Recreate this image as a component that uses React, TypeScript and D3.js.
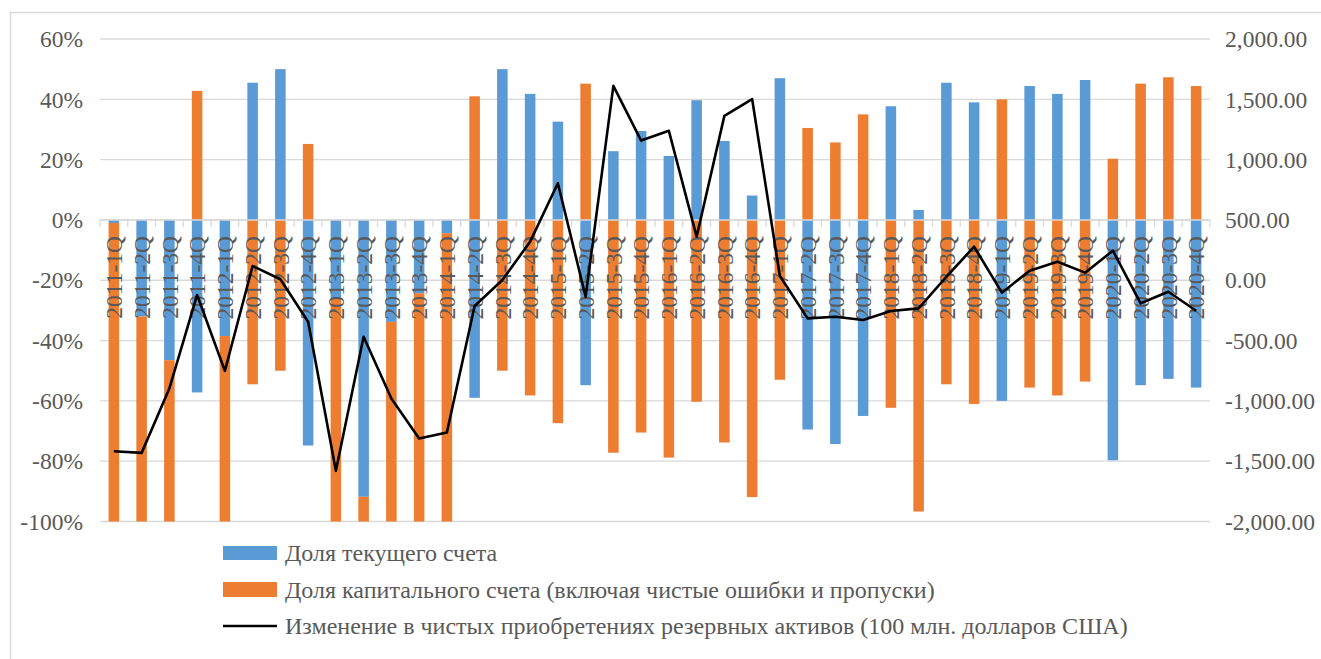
import React from "react";
import * as d3 from "d3";

const categories = [
  "2011-1Q","2011-2Q","2011-3Q","2011-4Q","2012-1Q","2012-2Q","2012-3Q","2012-4Q",
  "2013-1Q","2013-2Q","2013-3Q","2013-4Q","2014-1Q","2014-2Q","2014-3Q","2014-4Q",
  "2015-1Q","2015-2Q","2015-3Q","2015-4Q","2016-1Q","2016-2Q","2016-3Q","2016-4Q",
  "2017-1Q","2017-2Q","2017-3Q","2017-4Q","2018-1Q","2018-2Q","2018-3Q","2018-4Q",
  "2019-1Q","2019-2Q","2019-3Q","2019-4Q","2020-1Q","2020-2Q","2020-3Q","2020-4Q",
];

// Share of current account (%)
const currentShare = [
  -1, -32, -46.5, -57.2, -38.5, 45.5, 50, -74.8,
  -26, -91.8, -33.8, -24.3, -4.4, -59, 50, 41.8,
  32.6, -54.8, 22.8, 29.5, 21.2, 39.7, 26.2, 8.1,
  47, -69.5, -74.3, -65, 37.7, 3.3, 45.5, 39,
  -60, 44.4, 41.8, 46.4, -79.7, -54.8, -52.7, -55.6,
];

// Share of capital account incl. net errors and omissions (%)
const capitalShare = [
  -99, -68, -53.5, 42.8, -61.5, -54.5, -50, 25.2,
  -74, -8.2, -66.2, -75.7, -95.6, 41, -50, -58.2,
  -67.4, 45.2, -77.2, -70.5, -78.8, -60.3, -73.8, -91.9,
  -53, 30.5, 25.7, 35, -62.3, -96.7, -54.5, -61,
  40, -55.6, -58.2, -53.6, 20.3, 45.2, 47.3, 44.4,
];

// Change in net acquisition of reserve assets (100 mln USD)
const reserveChange = [
  -1417, -1431, -897, -122, -751, 118, 8, -344,
  -1580, -468, -980, -1312, -1262, -214, 2, 320,
  804, -136, 1612, 1158, 1239, 361, 1363, 1502,
  35, -316, -302, -330, -255, -233, 29, 278,
  -103, 79, 154, 63, 245, -191, -95, -253,
];

const leftTicks = [-1, -0.8, -0.6, -0.4, -0.2, 0, 0.2, 0.4, 0.6];
const rightTicks = [-2000, -1500, -1000, -500, 0, 500, 1000, 1500, 2000];

const legendLabels = [
  "Доля текущего счета",
  "Доля капитального счета (включая чистые ошибки и пропуски)",
  "Изменение в чистых приобретениях резервных активов (100 млн. долларов США)",
];

const BLUE = "#5B9BD5";
const ORANGE = "#ED7D31";
const GRID = "#d9d9d9";
const TEXT = "#595959";
const FONT = "Liberation Serif";
const txt = { fontFamily: FONT };

const locale = d3.formatLocale({
  decimal: ".",
  thousands: ",",
  grouping: [3],
  currency: ["", ""],
  minus: "-",
});
const fmtPct = locale.format(".0%");
const fmtNum = locale.format(",.2f");

export default function App() {
  const W = 1321;
  const H = 659;
  const left = 100;
  const right = 1210;
  const top = 39;
  const bottom = 521.5;

  const x = d3
    .scaleBand<string>()
    .domain(categories)
    .range([left, right])
    .paddingInner(0.62)
    .paddingOuter(0.31);
  const step = x.step();
  const bw = x.bandwidth();
  const yL = d3.scaleLinear().domain([-1, 0.6]).range([bottom, top]);
  const yR = d3.scaleLinear().domain([-2000, 2000]).range([bottom, top]);

  const rows = categories.map((c, i) => ({
    cat: c,
    current: currentShare[i] / 100,
    capital: capitalShare[i] / 100,
  }));
  const stack = d3
    .stack<any>()
    .keys(["current", "capital"])
    .offset(d3.stackOffsetDiverging);
  const series = stack(rows);
  const colors: Record<string, string> = { current: BLUE, capital: ORANGE };

  const line = d3
    .line<number>()
    .x((_, i) => (x(categories[i]) as number) + bw / 2)
    .y((d) => yR(d));

  const y0 = yL(0);
  const boundaries = d3.range(categories.length + 1).map((i) => left + i * step);

  return (
    <div style={{ position: "absolute", left: 0, top: 0, width: W, height: H, background: "#fff" }}>
      <svg width={W} height={H} style={{ display: "block" }}>
        <rect x={0} y={0} width={W} height={H} fill="#fff" />
        <rect x={10.5} y={12.5} width={W + 20} height={H + 20} fill="none" stroke={GRID} strokeWidth={1.5} />
        {/* gridlines */}
        {leftTicks.map((t) => (
          <line key={"g" + t} x1={left} x2={right} y1={yL(t)} y2={yL(t)} stroke={GRID} strokeWidth={1.3} />
        ))}
        {/* bars */}
        {series.map((s) => (
          <g key={s.key} fill={colors[s.key]}>
            {s.map((d, i) => {
              const ya = yL(d[0]);
              const yb = yL(d[1]);
              return (
                <rect
                  key={i}
                  x={x(categories[i]) as number}
                  y={Math.min(ya, yb)}
                  width={bw}
                  height={Math.abs(yb - ya)}
                />
              );
            })}
          </g>
        ))}
        {/* category axis */}
        <line x1={left} x2={right} y1={y0} y2={y0} stroke={GRID} strokeWidth={1.5} />
        {boundaries.map((bx, i) => (
          <line key={"t" + i} x1={bx} x2={bx} y1={y0} y2={y0 + 7} stroke={GRID} strokeWidth={1.3} />
        ))}
        {categories.map((c) => (
          <text
            key={"c" + c}
            transform={`translate(${(x(c) as number) + bw / 2},${y0 + 16}) rotate(-90)`}
            textAnchor="end"
            dy="0.35em"
            fontSize={23.5}
            style={txt}
            fill={TEXT}
          >
            {c}
          </text>
        ))}
        {/* left axis labels */}
        {leftTicks.map((t) => (
          <text key={"l" + t} x={83} y={yL(t)} dy="0.35em" textAnchor="end" fontSize={23.5} style={txt} fill={TEXT}>
            {fmtPct(t)}
          </text>
        ))}
        {/* right axis labels */}
        {rightTicks.map((t) => (
          <text key={"r" + t} x={1225} y={yR(t)} dy="0.35em" textAnchor="start" fontSize={23.5} style={txt} fill={TEXT}>
            {fmtNum(t)}
          </text>
        ))}
        {/* reserve line */}
        <path d={line(reserveChange) || ""} fill="none" stroke="#000" strokeWidth={2.6} strokeLinejoin="round" />
        {/* legend */}
        <g>
          <rect x={223} y={546} width={54} height={14} fill={BLUE} />
          <text x={285} y={553} dy="0.35em" fontSize={24} style={txt} fill={TEXT}>{legendLabels[0]}</text>
          <rect x={223} y={582} width={54} height={15} fill={ORANGE} />
          <text x={285} y={589.5} dy="0.35em" fontSize={24} style={txt} fill={TEXT}>{legendLabels[1]}</text>
          <line x1={223} x2={277} y1={626} y2={626} stroke="#000" strokeWidth={2.6} />
          <text x={285} y={626} dy="0.35em" fontSize={24} style={txt} fill={TEXT}>{legendLabels[2]}</text>
        </g>
      </svg>
    </div>
  );
}
